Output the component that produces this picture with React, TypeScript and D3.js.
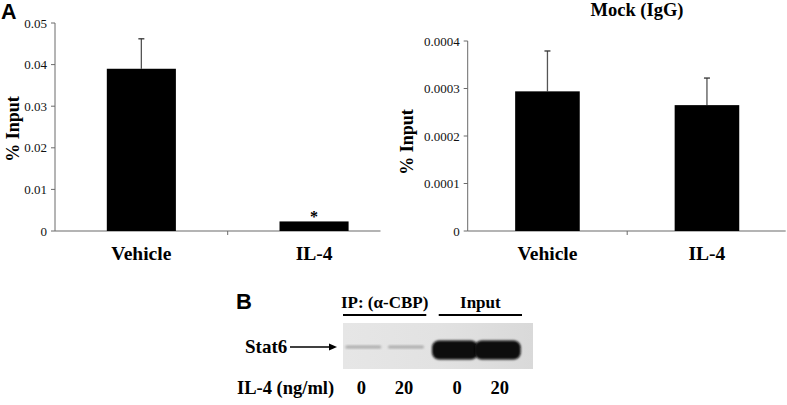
import React from "react";
import * as d3 from "d3";

const categories = ["Vehicle", "IL-4"];
const cbpValues = [0.039, 0.0023];
const cbpErrors = [0.0072, 0];
const cbpTicks = [0, 0.01, 0.02, 0.03, 0.04, 0.05];
const cbpTickLabels = ["0", "0.01", "0.02", "0.03", "0.04", "0.05"];
const mockValues = [0.000294, 0.000265];
const mockErrors = [0.000085, 0.000057];
const mockTicks = [0, 0.0001, 0.0002, 0.0003, 0.0004];
const mockTickLabels = ["0", "0.0001", "0.0002", "0.0003", "0.0004"];
const blotGroups = ["IP: (\u03b1-CBP)", "Input"];
const blotLanes = ["0", "20"];
const blotIntensity = [[0.28, 0.3], [1, 1]];

const SERIF = "'Liberation Serif', 'Times New Roman', serif";
const SANS = "'Liberation Sans', Arial, sans-serif";

type ChartProps = {
  values: number[];
  errors: number[];
  ticks: number[];
  tickLabels: string[];
  max: number;
  x0: number;
  x1: number;
  axisEnd: number;
  y0: number;
  y1: number;
  barPad: number;
  labelX: number;
  labelY: number;
  title?: string;
  titleX?: number;
  star?: number;
};

function BarChart(p: ChartProps) {
  const y = d3.scaleLinear().domain([0, p.max]).range([p.y0, p.y1]);
  const x = d3.scaleBand().domain(categories).range([p.x0, p.x1]).paddingInner(0).paddingOuter(0);
  const bw = x.bandwidth();
  const axisColor = "#6b6b6b";
  return (
    <g>
      {p.title && (
        <text x={p.titleX} y={16} textAnchor="middle" fontFamily={SERIF} fontWeight="bold" fontSize={18.5}>
          {p.title}
        </text>
      )}
      <line x1={p.x0} x2={p.x0} y1={p.y1} y2={p.y0} stroke={axisColor} strokeWidth={1} />
      <line x1={p.x0} x2={p.axisEnd} y1={p.y0} y2={p.y0} stroke={axisColor} strokeWidth={1.2} />
      {p.ticks.map((t, i) => (
        <g key={i}>
          <line x1={p.x0 - 4} x2={p.x0} y1={y(t)} y2={y(t)} stroke={axisColor} />
          <text x={p.x0 - 8} y={y(t) + 4.5} textAnchor="end" fontFamily={SERIF} fontSize={13} fill="#111">
            {p.tickLabels[i]}
          </text>
        </g>
      ))}
      {categories.slice(1).map((c) => (
        <line key={c} x1={x(c)!} x2={x(c)!} y1={p.y0} y2={p.y0 + 4} stroke={axisColor} />
      ))}
      {categories.map((c, i) => {
        const cx = x(c)! + bw / 2;
        const w = bw * (1 - p.barPad);
        const top = p.values[i] + p.errors[i];
        return (
          <g key={c}>
            {p.errors[i] > 0 && (
              <g>
                <line x1={cx} x2={cx} y1={y(top)} y2={y(p.values[i])} stroke="#555" strokeWidth={1.3} />
                <line x1={cx - 3} x2={cx + 3} y1={y(top)} y2={y(top)} stroke="#333" strokeWidth={1.3} />
              </g>
            )}
            <rect x={cx - w / 2} y={y(p.values[i])} width={w} height={p.y0 - y(p.values[i])} fill="#000" />
            <text x={cx} y={260} textAnchor="middle" fontFamily={SERIF} fontWeight="bold" fontSize={19.5}>
              {c}
            </text>
            {p.star === i && (
              <text x={cx} y={y(p.values[i]) + 1} textAnchor="middle" fontFamily={SERIF} fontWeight="bold" fontSize={16}>
                *
              </text>
            )}
          </g>
        );
      })}
      <text
        transform={`translate(${p.labelX},${p.labelY}) rotate(-90)`}
        textAnchor="middle"
        fontFamily={SERIF}
        fontWeight="bold"
        fontSize={18}
      >
        % Input
      </text>
    </g>
  );
}

function Blot() {
  const gx = d3.scaleBand().domain(blotGroups).range([343, 522]).paddingInner(0.13).paddingOuter(0);
  const lx = d3.scaleBand().domain(blotLanes).range([0, gx.bandwidth()]).paddingInner(0.05).paddingOuter(0);
  const top = 323;
  const bottom = 369;
  return (
    <g>
      <defs>
        <linearGradient id="blotbg" x1="0" x2="1" y1="0" y2="0">
          <stop offset="0" stopColor="#e6e6e6" />
          <stop offset="0.5" stopColor="#e2e2e2" />
          <stop offset="1" stopColor="#d9d9d9" />
        </linearGradient>
        <filter id="blur1" x="-20%" y="-50%" width="140%" height="200%">
          <feGaussianBlur stdDeviation="0.9" />
        </filter>
      </defs>
      <text x={236} y={309} fontFamily={SANS} fontWeight="bold" fontSize={22}>B</text>
      <rect x={343} y={top} width={190} height={bottom - top} fill="url(#blotbg)" />
      {blotGroups.map((g, gi) => (
        <g key={g}>
          <text x={gx(g)! + gx.bandwidth() / 2} y={308} textAnchor="middle" fontFamily={SERIF} fontWeight="bold" fontSize={17}>
            {g}
          </text>
          <line x1={gx(g)!} x2={gx(g)! + gx.bandwidth()} y1={315} y2={315} stroke="#000" strokeWidth={2} />
          {blotLanes.map((l, li) => {
            const cx = gx(g)! + lx(l)! + lx.bandwidth() / 2;
            const inten = blotIntensity[gi][li];
            const strong = inten > 0.5;
            const w = strong ? 46 : 36;
            const h = strong ? 19 : 3;
            const cy = strong ? 350 : 347;
            return (
              <g key={l}>
                <rect
                  x={cx - w / 2 - (strong ? 4 : 0)}
                  y={cy - h / 2}
                  width={w}
                  height={h}
                  rx={strong ? 7 : 1.5}
                  fill={strong ? "#0a0a0a" : "#9a9a9a"}
                  opacity={strong ? 1 : 0.75}
                  filter="url(#blur1)"
                />
                <text x={cx - 2} y={394} textAnchor="middle" fontFamily={SERIF} fontWeight="bold" fontSize={18.5}>
                  {l}
                </text>
              </g>
            );
          })}
        </g>
      ))}
      <text x={245} y={353} fontFamily={SERIF} fontWeight="bold" fontSize={19}>Stat6</text>
      <line x1={290} x2={332} y1={347} y2={347} stroke="#000" strokeWidth={1.6} />
      <path d="M337,347 L329,343.5 L329,350.5 Z" fill="#000" />
      <text x={237} y={394} fontFamily={SANS === "" ? SANS : SERIF} fontWeight="bold" fontSize={18.5}>IL-4 (ng/ml)</text>
    </g>
  );
}

export default function App() {
  return (
    <svg
      width={787}
      height={405}
      viewBox="0 0 787 405"
      style={{ position: "absolute", left: 0, top: 0, background: "#fff" }}
    >
      <rect width={787} height={405} fill="#fff" />
      <text x={1} y={19} fontFamily={SANS} fontWeight="bold" fontSize={21.5}>A</text>
      <BarChart
        values={cbpValues}
        errors={cbpErrors}
        ticks={cbpTicks}
        tickLabels={cbpTickLabels}
        max={0.05}
        x0={55}
        x1={400.4}
        axisEnd={380.5}
        y0={231}
        y1={23}
        barPad={0.6}
        labelX={19}
        labelY={129}
        star={1}
      />
      <BarChart
        values={mockValues}
        errors={mockErrors}
        ticks={mockTicks}
        tickLabels={mockTickLabels}
        max={0.0004}
        x0={467.7}
        x1={786.7}
        axisEnd={785.7}
        y0={231}
        y1={41}
        barPad={0.595}
        labelX={413}
        labelY={142}
        title="Mock (IgG)"
        titleX={637}
      />
      <Blot />
    </svg>
  );
}
